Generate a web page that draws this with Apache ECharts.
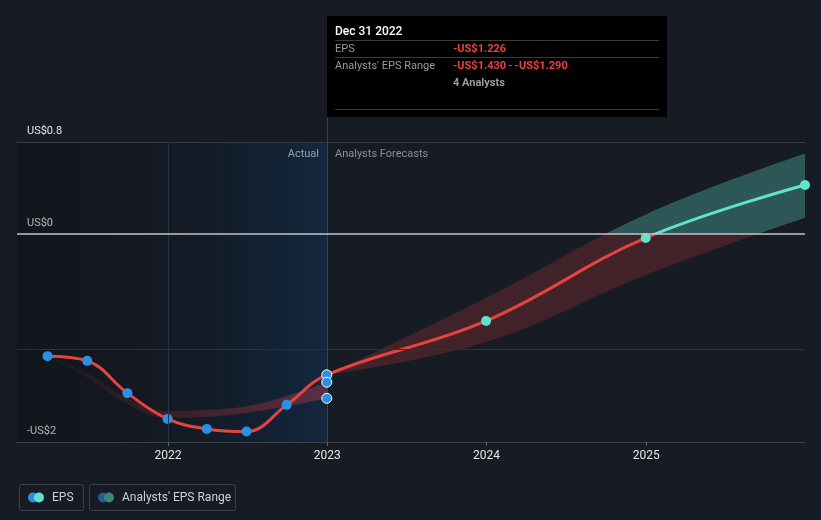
<!DOCTYPE html>
<html><head><meta charset="utf-8">
<script src="https://cdn.jsdelivr.net/npm/echarts@6/dist/echarts.min.js"></script>
<style>html,body{margin:0;padding:0;background:#161b24}#c{width:821px;height:520px}</style>
</head><body><div id="c"></div>
<script>
// ---- data ----
const quarterDates = ['2021-03-31','2021-06-30','2021-09-30','2021-12-31','2022-03-31','2022-06-30','2022-09-30','2022-12-31'];
const actualEps = [-1.063,-1.104,-1.385,-1.609,-1.696,-1.719,-1.487,-1.226];
const histRangeLow = [-1.063,-1.25,-1.48,-1.60,-1.59,-1.555,-1.50,-1.430];
const histRangeHigh = [-1.063,-1.21,-1.43,-1.54,-1.53,-1.50,-1.41,-1.290];
const forecastDates = ['2022-12-31','2023-12-31','2024-12-31','2025-12-31'];
const forecastEps = [-1.226,-0.757,-0.035,0.426];
const forecastLow = [-1.226,-0.94,-0.357,0.14];
const forecastHigh = [-1.226,-0.557,0.17,0.70];
const analystCount = 4;
const xTickDates = ['2022-01-01','2023-01-01','2024-01-01','2025-01-01'];
const xTickLabels = ['2022','2023','2024','2025'];
const yTickValues = [0.8, 0, -1.81];
const yTickLabels = ['US$0.8','US$0','-US$2'];
const xMin = '2021-01-20', xMax = '2025-12-31';
const yMin = -1.81, yMax = 0.8;

const pair = (d, v) => d.map((x, i) => [x, v[i]]);
const diff = (a, b) => a.map((v, i) => +(v - b[i]).toFixed(4));

const RED = '#e5433f', TEAL = '#5fe3cc', BLUE = '#2b8fe4';
const chart = echarts.init(document.getElementById('c'), null, {renderer: 'canvas'});
const lastIdx = quarterDates.length - 1;
const fmt = v => (v < 0 ? '-' : '') + 'US$' + Math.abs(v).toFixed(3);
const YEAR = 365 * 24 * 3600 * 1000;

chart.setOption({
  backgroundColor: '#161b24',
  animation: false,
  grid: {left: 17, right: 16, top: 142, bottom: 78},
  xAxis: {
    type: 'time', min: xMin, max: xMax, minInterval: YEAR, maxInterval: YEAR * 1.01,
    axisLine: {show: true, onZero: false, lineStyle: {color: '#3b404a', width: 1}},
    axisTick: {show: true, length: 4, lineStyle: {color: '#5a5f68'}},
    axisLabel: {color: '#e6e6e6', fontSize: 12, fontFamily: 'Roboto', margin: 8, showMinLabel: false, showMaxLabel: false,
      formatter: v => { const y = String(new Date(v).getFullYear()); return xTickLabels.includes(y) ? y : ''; }},
    splitLine: {show: false}
  },
  yAxis: {
    type: 'value', min: yMin, max: yMax,
    axisLine: {show: false}, axisTick: {show: false}, splitLine: {show: false},
    axisLabel: {customValues: yTickValues, inside: true, margin: 10, color: '#e6e6e6', fontSize: 11, fontFamily: 'Roboto',
      verticalAlign: 'bottom', padding: [0, 0, 5, 0],
      formatter: v => { const i = yTickValues.findIndex(t => Math.abs(t - v) < 1e-6); return i >= 0 ? yTickLabels[i] : ''; }}
  },
  visualMap: [
    {type: 'piecewise', show: false, dimension: 1, seriesIndex: 4, outOfRange: {color: RED},
      pieces: [{gte: -10, lt: 0, color: RED}, {gte: 0, lte: 10, color: TEAL}]},
    {type: 'piecewise', show: false, dimension: 1, seriesIndex: 3, outOfRange: {color: 'rgba(229,62,62,0.21)'},
      pieces: [{gte: -10, lt: 0, color: 'rgba(229,62,62,0.21)'}, {gte: 0, lte: 10, color: 'rgba(95,227,204,0.30)'}]}
  ],
  series: [
    {name: 'histBase', type: 'line', stack: 'hist', stackStrategy: 'all', data: pair(quarterDates, histRangeLow), smooth: 0.4,
      showSymbol: false, lineStyle: {opacity: 0}, silent: true, z: 1,
      markArea: {silent: true, data: [
        [{xAxis: xMin, itemStyle: {color: new echarts.graphic.LinearGradient(0, 0, 1, 0, [
            {offset: 0, color: 'rgba(5,7,10,0.28)'}, {offset: 1, color: 'rgba(5,7,10,0.08)'}])}}, {xAxis: xTickDates[0]}],
        [{xAxis: xTickDates[0], itemStyle: {color: new echarts.graphic.LinearGradient(0, 0, 1, 0, [
            {offset: 0, color: 'rgba(12,22,34,0.35)'}, {offset: 1, color: 'rgba(16,52,88,0.5)'}])}}, {xAxis: xTickDates[1]}]
      ]},
      markLine: {silent: true, symbol: 'none', label: {show: false}, data: [
        {yAxis: 0.8, lineStyle: {color: '#363b45', width: 1, type: 'solid'}},
        {yAxis: -1, lineStyle: {color: '#2c313a', width: 1, type: 'solid'}},
        {xAxis: xTickDates[0], lineStyle: {color: '#1d3650', width: 1, type: 'solid'}},
        {xAxis: xTickDates[1], lineStyle: {color: '#2a4560', width: 1, type: 'solid'}}
      ]}
    },
    {name: 'histRange', type: 'line', stack: 'hist', stackStrategy: 'all', data: pair(quarterDates, diff(histRangeHigh, histRangeLow)), smooth: 0.4,
      showSymbol: false, lineStyle: {opacity: 0}, silent: true, z: 1,
      areaStyle: {opacity: 1, color: new echarts.graphic.LinearGradient(0, 0, 1, 0, [
        {offset: 0, color: 'rgba(210,60,70,0.04)'}, {offset: 1, color: 'rgba(210,60,70,0.38)'}])}},
    {name: 'fcBase', type: 'line', stack: 'fc', stackStrategy: 'all', data: pair(forecastDates, forecastLow), smooth: 0.4,
      showSymbol: false, lineStyle: {opacity: 0}, silent: true, z: 1,
      markLine: {silent: true, symbol: 'none', label: {show: false}, data: [
        {yAxis: 0, lineStyle: {color: '#c4c4c4', width: 1.5, type: 'solid'}}]}},
    {name: "Analysts' EPS Range", type: 'line', stack: 'fc', stackStrategy: 'all', data: pair(forecastDates, diff(forecastHigh, forecastLow)), smooth: 0.4,
      showSymbol: false, lineStyle: {opacity: 0}, silent: true, z: 1, areaStyle: {opacity: 1}},
    {name: 'EPS', type: 'line', data: pair(quarterDates, actualEps).concat(pair(forecastDates.slice(1), forecastEps.slice(1))),
      smooth: 0.4, showSymbol: false, lineStyle: {width: 3}, z: 3},
    {name: 'actualDots', type: 'scatter', data: pair(quarterDates.slice(0, lastIdx), actualEps.slice(0, lastIdx)),
      symbolSize: 10, itemStyle: {color: BLUE, opacity: 1}, z: 4},
    {name: 'lastDots', type: 'scatter',
      data: [[quarterDates[lastIdx], actualEps[lastIdx]], [quarterDates[lastIdx], histRangeHigh[lastIdx]], [quarterDates[lastIdx], histRangeLow[lastIdx]]],
      symbolSize: 10, itemStyle: {color: BLUE, opacity: 1, borderColor: '#ffffff', borderWidth: 1}, z: 5},
    {name: 'forecastDots', type: 'scatter', data: pair(forecastDates.slice(1), forecastEps.slice(1)),
      symbolSize: 10, itemStyle: {color: TEAL, opacity: 1}, z: 4}
  ],
  graphic: [
    {type: 'line', shape: {x1: 327.5, y1: 117, x2: 327.5, y2: 142}, style: {stroke: '#2a4560', lineWidth: 1}, silent: true},
    {type: 'text', x: 319, y: 154, style: {text: 'Actual', fill: '#ffffff', font: '11px Roboto', textAlign: 'right', textVerticalAlign: 'middle'}},
    {type: 'text', x: 335, y: 154, style: {text: 'Analysts Forecasts', fill: '#8a8f98', font: '11px Roboto', textAlign: 'left', textVerticalAlign: 'middle'}},
    {type: 'group', left: 327, top: 16, children: [
      {type: 'rect', shape: {x: 0, y: 0, width: 340, height: 101}, style: {fill: '#000000'}},
      {type: 'text', x: 8, y: 16, style: {text: 'Dec 31 2022', fill: '#ffffff', font: '500 12px Roboto', textVerticalAlign: 'middle'}},
      {type: 'line', shape: {x1: 8, y1: 24.5, x2: 332, y2: 24.5}, style: {stroke: '#3a3a3a', lineWidth: 1}},
      {type: 'text', x: 8, y: 33, style: {text: 'EPS', fill: '#9a9a9a', font: '11px Roboto', textVerticalAlign: 'middle'}},
      {type: 'text', x: 126, y: 33, style: {text: fmt(actualEps[lastIdx]), fill: '#e8423f', font: 'bold 11px Roboto', textVerticalAlign: 'middle'}},
      {type: 'line', shape: {x1: 8, y1: 41.5, x2: 332, y2: 41.5}, style: {stroke: '#3a3a3a', lineWidth: 1}},
      {type: 'text', x: 8, y: 50, style: {text: "Analysts' EPS Range", fill: '#9a9a9a', font: '11px Roboto', textVerticalAlign: 'middle'}},
      {type: 'text', x: 126, y: 50, style: {text: '{r|' + fmt(histRangeLow[lastIdx]) + '}{g| - }{r|' + fmt(histRangeHigh[lastIdx]) + '}',
        textVerticalAlign: 'middle', rich: {r: {fill: '#e8423f', font: 'bold 11px Roboto'}, g: {fill: '#9a9a9a', font: '11px Roboto'}}}},
      {type: 'text', x: 126, y: 67, style: {text: analystCount + ' Analysts', fill: '#9a9a9a', font: 'bold 11px Roboto', textVerticalAlign: 'middle'}},
      {type: 'line', shape: {x1: 8, y1: 93.5, x2: 332, y2: 93.5}, style: {stroke: '#3a3a3a', lineWidth: 1}}
    ]},
    {type: 'group', left: 17, top: 482, children: [
      {type: 'rect', shape: {x: 0.5, y: 0.5, width: 64, height: 26, r: 2}, style: {fill: 'none', stroke: '#3b404a', lineWidth: 1}},
      {type: 'circle', shape: {cx: 14, cy: 13.5, r: 5}, style: {fill: BLUE}},
      {type: 'circle', shape: {cx: 20, cy: 13.5, r: 5}, style: {fill: TEAL}},
      {type: 'text', x: 33, y: 13.5, style: {text: 'EPS', fill: '#d0d0d0', font: '12px Roboto', textVerticalAlign: 'middle'}},
      {type: 'rect', shape: {x: 70.5, y: 0.5, width: 146, height: 26, r: 2}, style: {fill: 'none', stroke: '#3b404a', lineWidth: 1}},
      {type: 'circle', shape: {cx: 84, cy: 13.5, r: 5}, style: {fill: '#275c8c'}},
      {type: 'circle', shape: {cx: 90, cy: 13.5, r: 5}, style: {fill: '#3d8479'}},
      {type: 'text', x: 103, y: 13.5, style: {text: "Analysts' EPS Range", fill: '#d0d0d0', font: '12px Roboto', textVerticalAlign: 'middle'}}
    ]}
  ]
});
</script></body></html>
